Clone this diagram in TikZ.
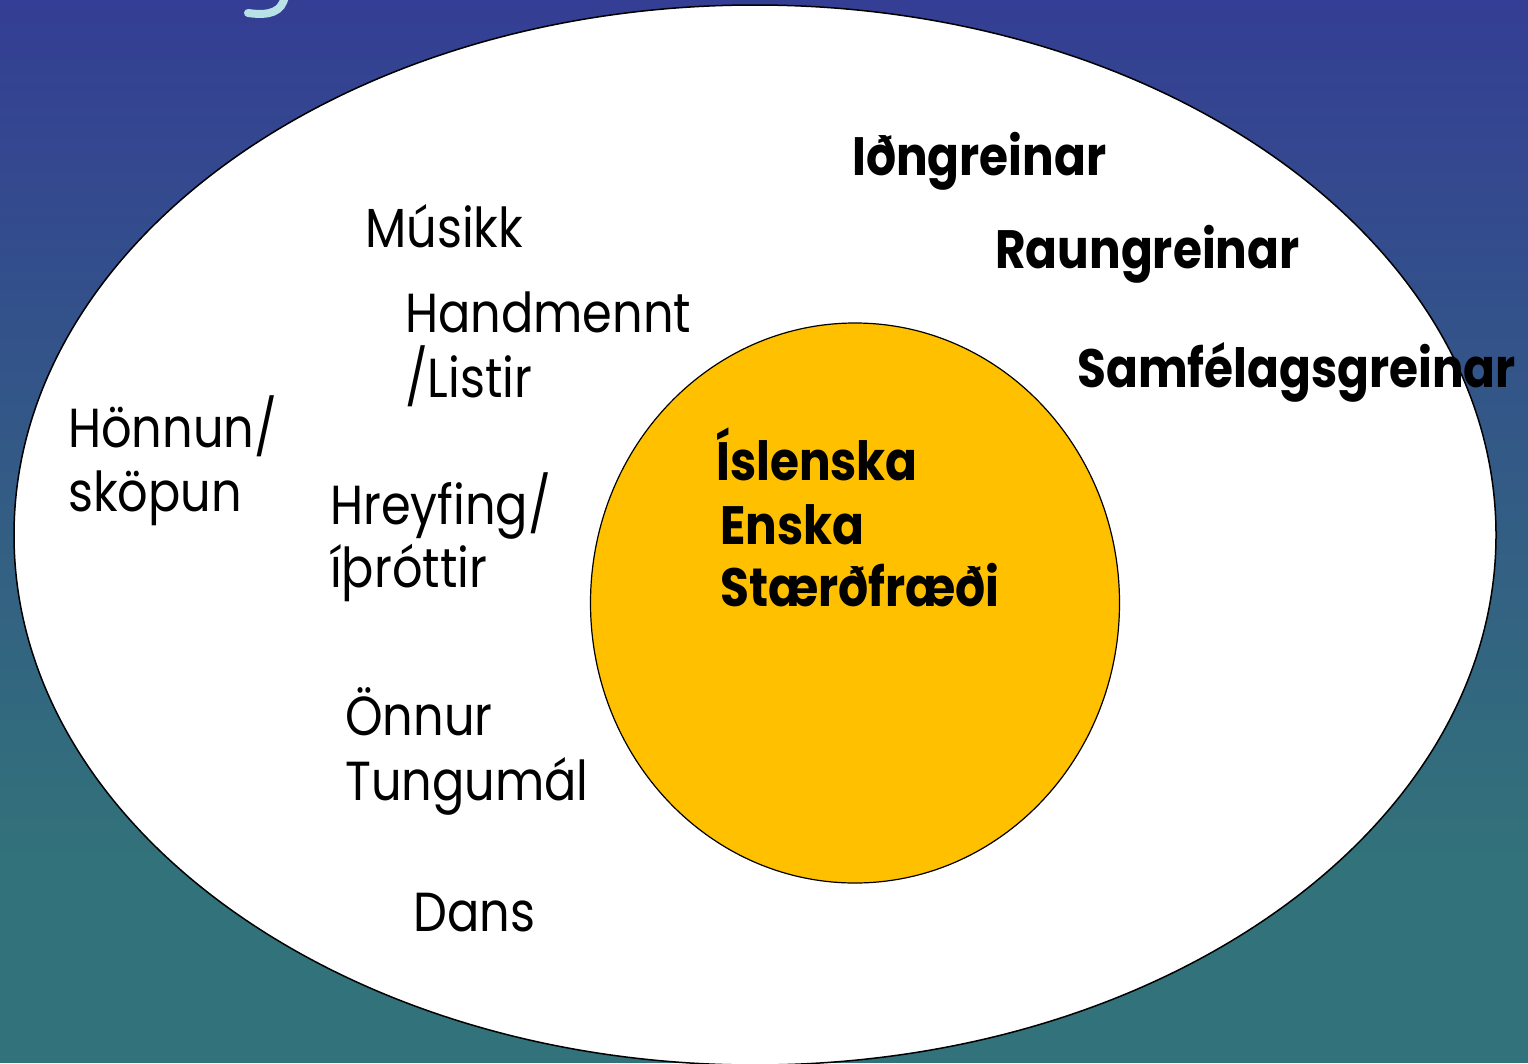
\documentclass[tikz,border=0pt]{standalone}
\usepackage{fontspec}
\setmainfont{Poppins}[FakeStretch=0.87]
\usetikzlibrary{shapes.geometric}
\definecolor{bgblue}{RGB}{52,62,148}
\definecolor{bgteal}{RGB}{50,114,122}
\definecolor{coreorange}{RGB}{255,192,0}
\definecolor{titlecyan}{RGB}{184,226,230}
\begin{document}
\begin{tikzpicture}[x=1pt,y=-1pt,
  lbl/.style={anchor=base west, inner sep=0pt, text=black, font=\fontsize{55}{64}\selectfont},
  blbl/.style={anchor=base west, inner sep=0pt, text=black, font=\fontsize{54}{64}\selectfont\bfseries}]
\useasboundingbox (0,0) rectangle (1528,1063);
\clip (0,0) rectangle (1528,1063);
% background
\fill[bgteal] (0,0) rectangle (1528,1063);
\shade[top color=bgblue, bottom color=bgteal] (0,0) rectangle (1528,860);
% title fragment
\draw[titlecyan, line width=8pt, line cap=round] (285,-4) .. controls (282,12) and (270,16) .. (248,13);
% outer ellipse
\node (outer) [draw=black, line width=1.5pt, fill=white, ellipse, inner sep=0pt,
  minimum width=1482pt, minimum height=1060pt] at (755,535) {};
% core circle
\node (core) [draw=black, line width=1.2pt, fill=coreorange, ellipse, inner sep=0pt,
  minimum width=529pt, minimum height=560pt] at (855,603) {};
% outer labels
\node (idn) [blbl] at (852,175) {Iðngreinar};
\node (raun) [blbl] at (995,268) {Raungreinar};
\node (samf) [blbl] at (1077,387) {Samfélagsgreinar};
\node (musik) [lbl] at (365,247) {Músikk};
\node (hand1) [lbl] at (405,332) {Handmennt};
\node (hand2) [lbl] at (405,397) {/Listir};
\node (honn1) [lbl] at (68,447) {Hönnun/};
\node (honn2) [lbl] at (68,511) {sköpun};
\node (hrey1) [lbl] at (330,524) {Hreyfing/};
\node (hrey2) [lbl] at (330,587) {íþróttir};
\node (onn1) [lbl] at (345,735) {Önnur};
\node (onn2) [lbl] at (345,800) {Tungumál};
\node (dans) [lbl] at (413,931) {Dans};
% core labels
\node (isl) [blbl] at (716,480) {Íslenska};
\node (ens) [blbl] at (720,544) {Enska};
\node (stae) [blbl] at (720,606) {Stærðfræði};
\end{tikzpicture}
\end{document}
